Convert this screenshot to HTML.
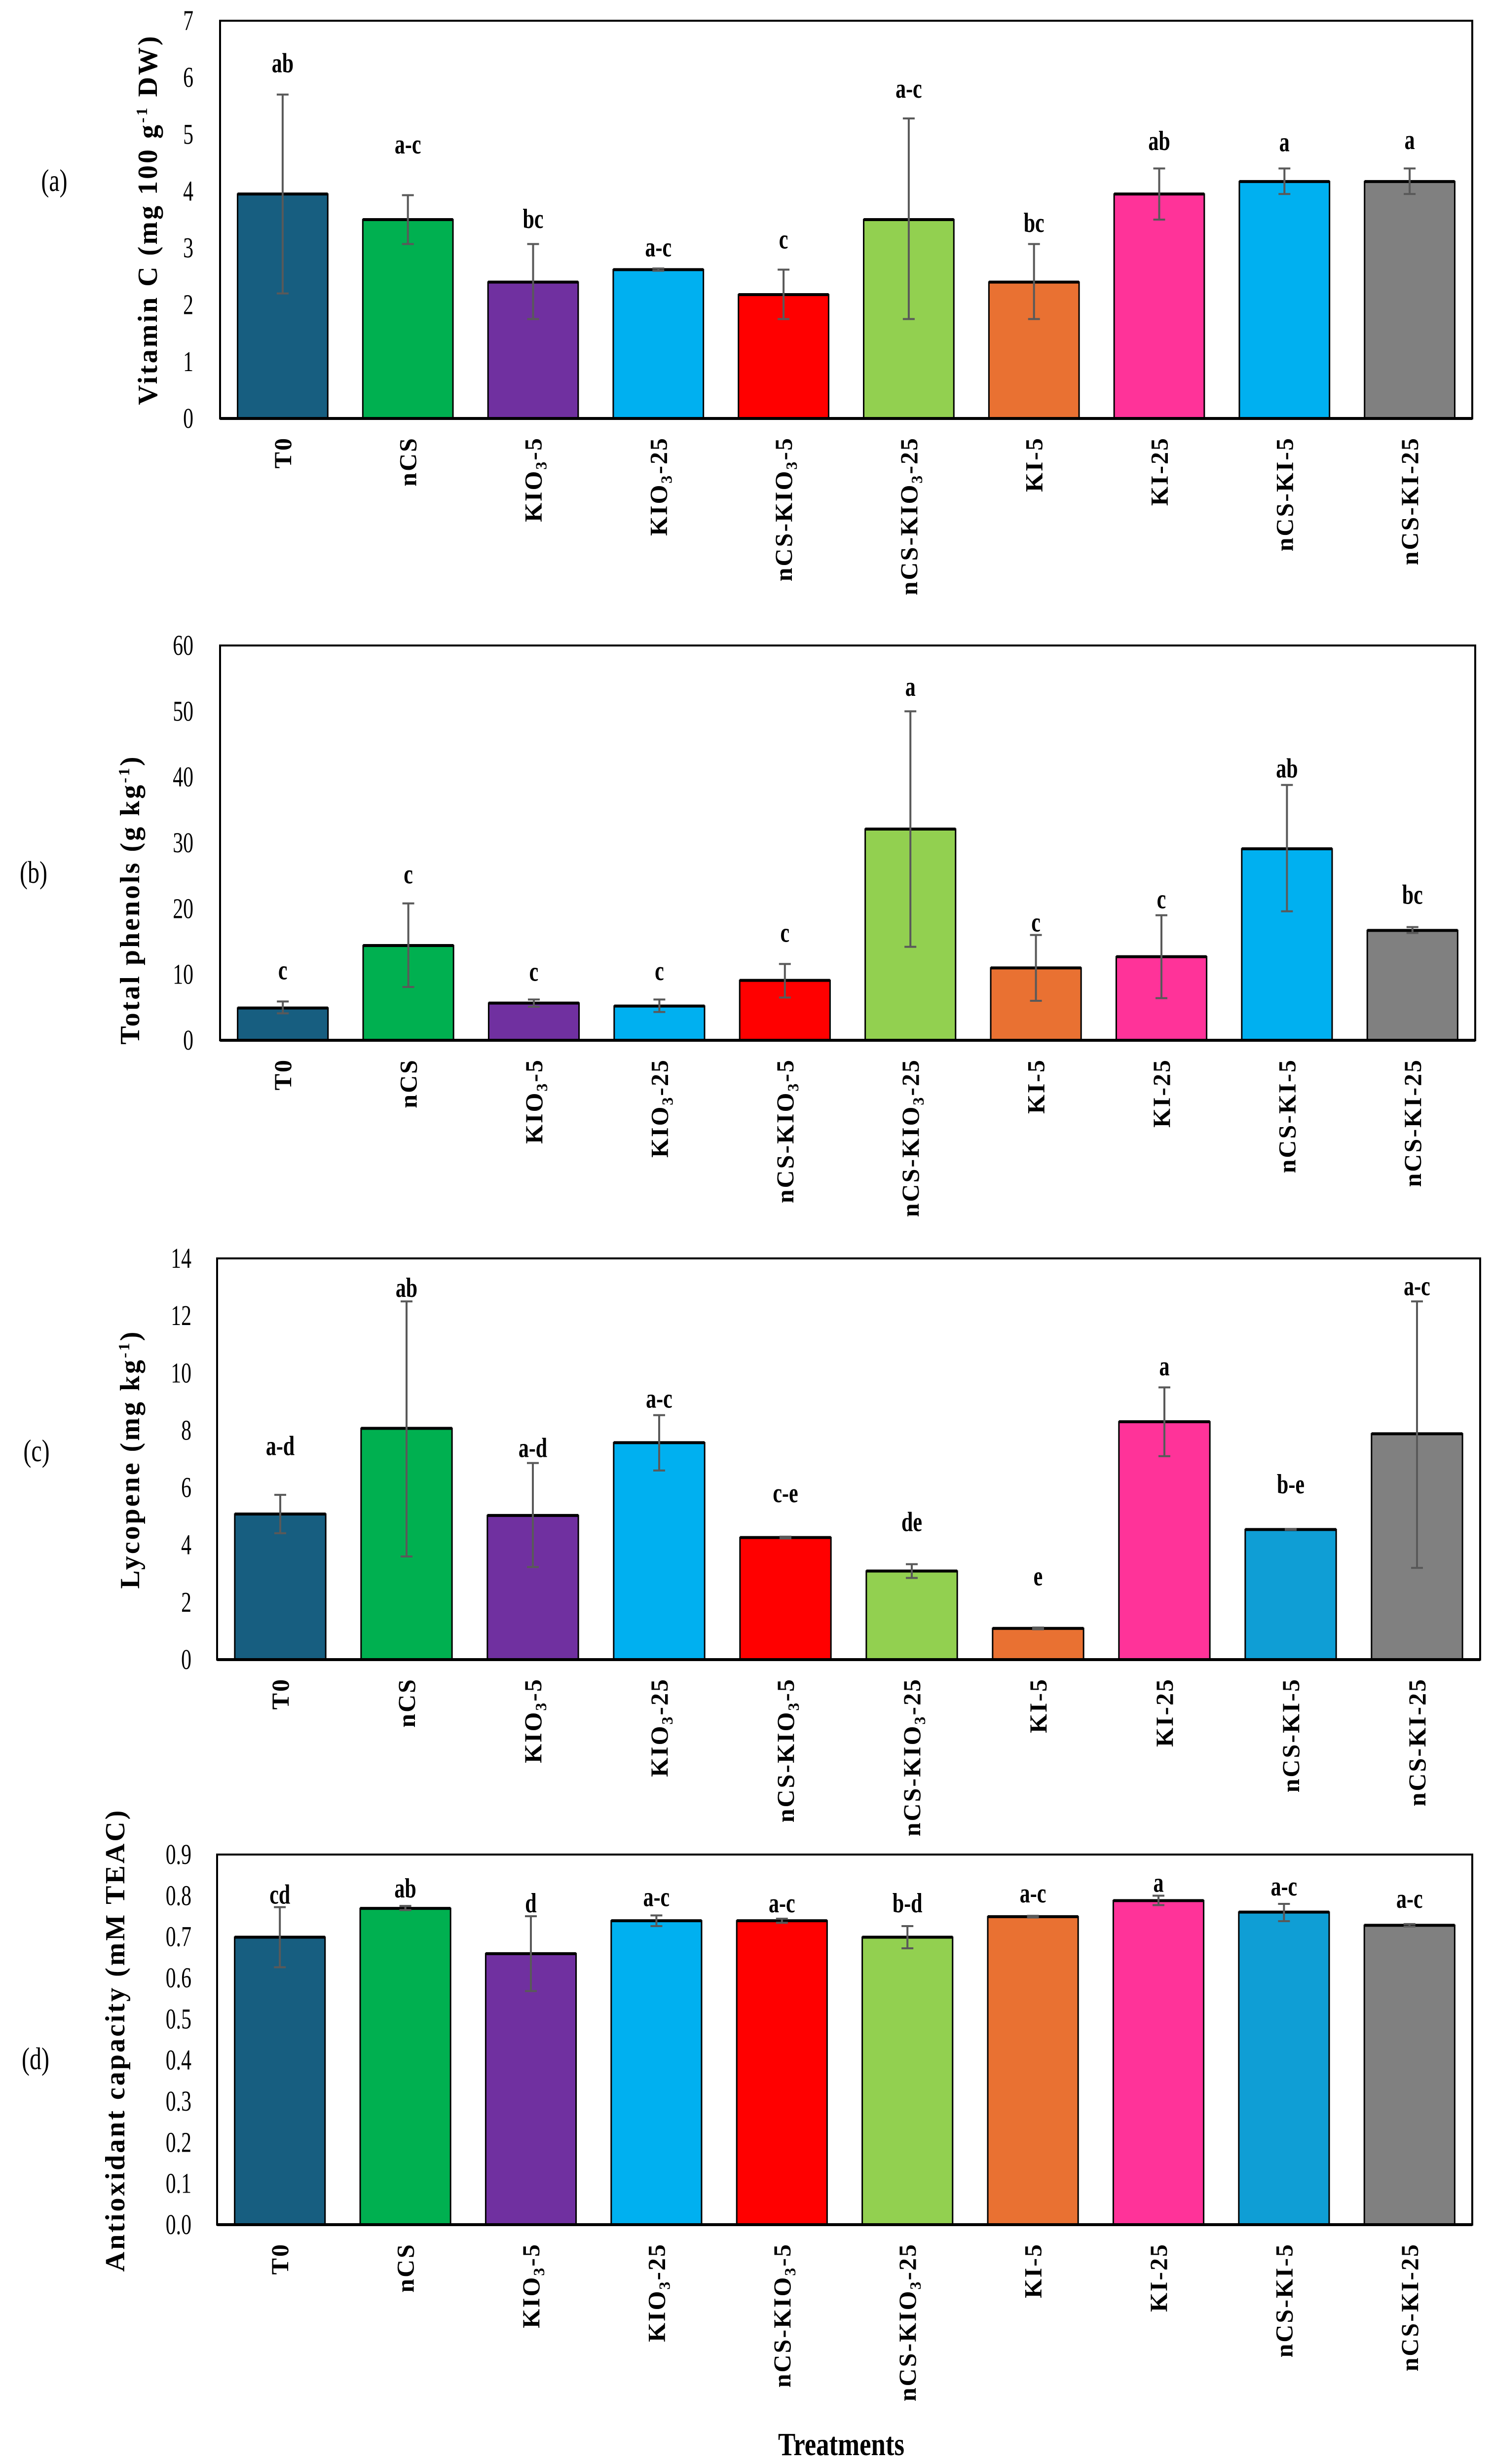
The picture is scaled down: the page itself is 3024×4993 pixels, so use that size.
<!DOCTYPE html>
<html><head><meta charset="utf-8"><style>
html,body{margin:0;padding:0;background:#fff;}
svg{display:block;}
text{font-family:"Liberation Serif",serif;}
</style></head><body>
<svg id="fig" width="3024" height="4993" viewBox="0 0 3024 4993" xmlns="http://www.w3.org/2000/svg">
<text x="1705" y="4975" font-size="66" font-weight="bold" text-anchor="middle" transform="translate(1705 4975) scale(0.8 1) translate(-1705 -4975)">Treatments</text>
</svg>
<script>
const categories = ["T0","nCS","KIO3-5","KIO3-25","nCS-KIO3-5","nCS-KIO3-25","KI-5","KI-25","nCS-KI-5","nCS-KI-25"];
const colorsAB = ["#175e80","#00b050","#7030a0","#00b0f0","#ff0000","#92d050","#e97132","#ff3399","#00b0f0","#808080"];
const colorsCD = ["#175e80","#00b050","#7030a0","#00b0f0","#ff0000","#92d050","#e97132","#ff3399","#0f9ed5","#808080"];

const vitCValues = [3.95,3.5,2.4,2.62,2.18,3.5,2.4,3.95,4.17,4.17];
const vitCErrLo = [2.2,3.07,1.75,2.6,1.75,1.75,1.75,3.5,3.95,3.95];
const vitCErrHi = [5.7,3.93,3.07,2.64,2.62,5.28,3.07,4.4,4.4,4.4];
const vitCLetters = ["ab","a-c","bc","a-c","c","a-c","bc","ab","a","a"];
const vitCLetterY = [6.25,4.82,3.51,3.01,3.15,5.8,3.44,4.88,4.86,4.9];
const vitCTicks = [0,1,2,3,4,5,6,7];

const phenValues = [4.9,14.4,5.65,5.2,9.1,32.1,11.0,12.7,29.1,16.7];
const phenErrLo = [4.1,8.1,5.1,4.3,6.5,14.2,6.0,6.4,19.6,16.3];
const phenErrHi = [5.9,20.8,6.2,6.2,11.6,50.0,16.0,19.0,38.8,17.2];
const phenLetters = ["c","c","c","c","c","a","c","c","ab","bc"];
const phenLetterY = [10.6,25.2,10.4,10.5,16.3,53.7,17.9,21.4,41.3,22.1];
const phenTicks = [0,10,20,30,40,50,60];

const lycValues = [5.08,8.07,5.03,7.57,4.26,3.09,1.09,8.3,4.54,7.88];
const lycErrLo = [4.41,3.6,3.23,6.6,4.23,2.85,1.06,7.1,4.53,3.2];
const lycErrHi = [5.75,12.5,6.86,8.53,4.29,3.33,1.12,9.5,4.55,12.5];
const lycLetters = ["a-d","ab","a-d","a-c","c-e","de","e","a","b-e","a-c"];
const lycLetterY = [7.45,12.97,7.38,9.1,5.8,4.8,2.9,10.23,6.11,13.03];
const lycTicks = [0,2,4,6,8,10,12,14];

const antiValues = [0.699,0.769,0.659,0.739,0.739,0.699,0.749,0.788,0.76,0.728];
const antiErrLo = [0.626,0.765,0.568,0.726,0.734,0.672,0.747,0.777,0.738,0.725];
const antiErrHi = [0.772,0.775,0.75,0.752,0.744,0.726,0.751,0.8,0.78,0.731];
const antiLetters = ["cd","ab","d","a-c","a-c","b-d","a-c","a","a-c","a-c"];
const antiLetterY = [0.802,0.817,0.781,0.796,0.781,0.781,0.805,0.831,0.822,0.792];
const antiTicks = [0,0.1,0.2,0.3,0.4,0.5,0.6,0.7,0.8,0.9];

const NS = "http://www.w3.org/2000/svg";
const svg = document.getElementById("fig");
function mk(tag, attrs, parent){
  const e = document.createElementNS(NS, tag);
  for (const k in attrs) e.setAttribute(k, attrs[k]);
  (parent||svg).appendChild(e);
  return e;
}
function catLabel(g, name, x, y){
  const t = mk("text", {x:0, y:0, "font-size":50, "font-weight":"bold", "text-anchor":"end", "letter-spacing":3,
    transform:"translate("+x+" "+y+") rotate(-90)"}, g);
  
  
  const m = name.match(/^(.*KIO)3(.*)$/);
  if (m){
    const a = document.createElementNS(NS,"tspan"); a.textContent = m[1]; t.appendChild(a);
    const s = document.createElementNS(NS,"tspan"); s.setAttribute("font-size","32"); s.setAttribute("dy","10"); s.textContent = "3"; t.appendChild(s);
    const b = document.createElementNS(NS,"tspan"); b.setAttribute("dy","-10"); b.textContent = m[2]; t.appendChild(b);
  } else t.textContent = name;
}
function drawPanel(p){
  const g = mk("g", {});
  
  
  const yMax = p.ticks[p.ticks.length-1];
  const ys = v => p.bottom - (v / yMax) * (p.bottom - p.top);
  const step = (p.right - p.left) / categories.length;
  const xc = i => p.left + step * (i + 0.5);
  const bw = step * 0.72;
  p.ticks.forEach(t => {
    const tx = mk("text", {x:p.tickX, y:ys(t)+19, "font-size":58, "text-anchor":"end",
      transform:"translate("+p.tickX+" 0) scale(0.72 1) translate("+(-p.tickX)+" 0)"}, g);
    
    
    tx.textContent = (p.decimals ? t.toFixed(1) : String(t));
  });
  p.values.forEach((v, i) => {
    const r = mk("rect", {x:xc(i)-bw/2, y:ys(v), width:bw, height:ys(0)-ys(v), fill:p.colors[i], stroke:"#000", "stroke-width":3}, g);
    
    
    mk("line", {x1:xc(i)-bw/2, x2:xc(i)+bw/2, y1:ys(v), y2:ys(v), stroke:"#000", "stroke-width":6}, g);
    const eb = mk("path", {d:"M"+xc(i)+" "+ys(p.lo[i])+"V"+ys(p.hi[i])+"M"+(xc(i)-12)+" "+ys(p.lo[i])+"h24M"+(xc(i)-12)+" "+ys(p.hi[i])+"h24",
      stroke:"#595959", "stroke-width":4, fill:"none"}, g);
    
    
    const lt = mk("text", {x:xc(i), y:ys(p.letterY[i])+18, "font-size":56, "font-weight":"bold", "text-anchor":"middle",
      transform:"translate("+xc(i)+" 0) scale(0.75 1) translate("+(-xc(i))+" 0)"}, g);
    
    
    lt.textContent = p.letters[i];
    catLabel(g, categories[i], xc(i)+17, p.bottom+37);
  });
  const fr = mk("rect", {x:p.left, y:p.top, width:p.right-p.left, height:p.bottom-p.top, fill:"none", stroke:"#000", "stroke-width":4}, g);
  
  
  mk("line", {x1:p.left, x2:p.right, y1:p.bottom, y2:p.bottom, stroke:"#000", "stroke-width":6}, g);
  const yt = mk("text", {x:0, y:0, "font-size":56, "font-weight":"bold", "text-anchor":"middle", "letter-spacing":4,
    transform:"translate("+p.titleX+" "+p.titleY+") rotate(-90)"}, g);
  
  
  p.title.forEach(part => {
    const s = document.createElementNS(NS,"tspan");
    s.textContent = part[0];
    if (part[1]) { s.setAttribute("font-size","32"); s.setAttribute("dy","-20"); }
    if (part[2]) { s.setAttribute("dy","20"); }
    yt.appendChild(s);
  });
  const pl = mk("text", {x:p.labX, y:p.labY+22, "font-size":64, "text-anchor":"middle",
    transform:"translate("+p.labX+" 0) scale(0.75 1) translate("+(-p.labX)+" 0)"}, g);
  
  
  pl.textContent = p.lab;
}
drawPanel({name:"vitamin-c-chart", values:vitCValues, lo:vitCErrLo, hi:vitCErrHi, letters:vitCLetters, letterY:vitCLetterY, ticks:vitCTicks,
  colors:colorsAB, top:42, bottom:848, left:446, right:2984, tickX:392, titleX:318, titleY:445,
  title:[["Vitamin C (mg 100 g"],["-1",1],[" DW)",0,1]], lab:"(a)", labX:110, labY:365});
drawPanel({name:"total-phenols-chart", values:phenValues, lo:phenErrLo, hi:phenErrHi, letters:phenLetters, letterY:phenLetterY, ticks:phenTicks,
  colors:colorsAB, top:1308, bottom:2108, left:446, right:2990, tickX:392, titleX:282, titleY:1823,
  title:[["Total phenols (g kg"],["-1",1],[")",0,1]], lab:"(b)", labX:68, labY:1767});
drawPanel({name:"lycopene-chart", values:lycValues, lo:lycErrLo, hi:lycErrHi, letters:lycLetters, letterY:lycLetterY, ticks:lycTicks,
  colors:colorsCD, top:2550, bottom:3363, left:440, right:3000, tickX:388, titleX:282, titleY:2957,
  title:[["Lycopene (mg kg"],["-1",1],[")",0,1]], lab:"(c)", labX:74, labY:2939});
drawPanel({name:"antioxidant-chart", values:antiValues, lo:antiErrLo, hi:antiErrHi, letters:antiLetters, letterY:antiLetterY, ticks:antiTicks, decimals:true,
  colors:colorsCD, top:3758, bottom:4508, left:440, right:2984, tickX:388, titleX:252, titleY:4134,
  title:[["Antioxidant capacity (mM TEAC)"]], lab:"(d)", labX:72, labY:4171});
</script>
</body></html>
